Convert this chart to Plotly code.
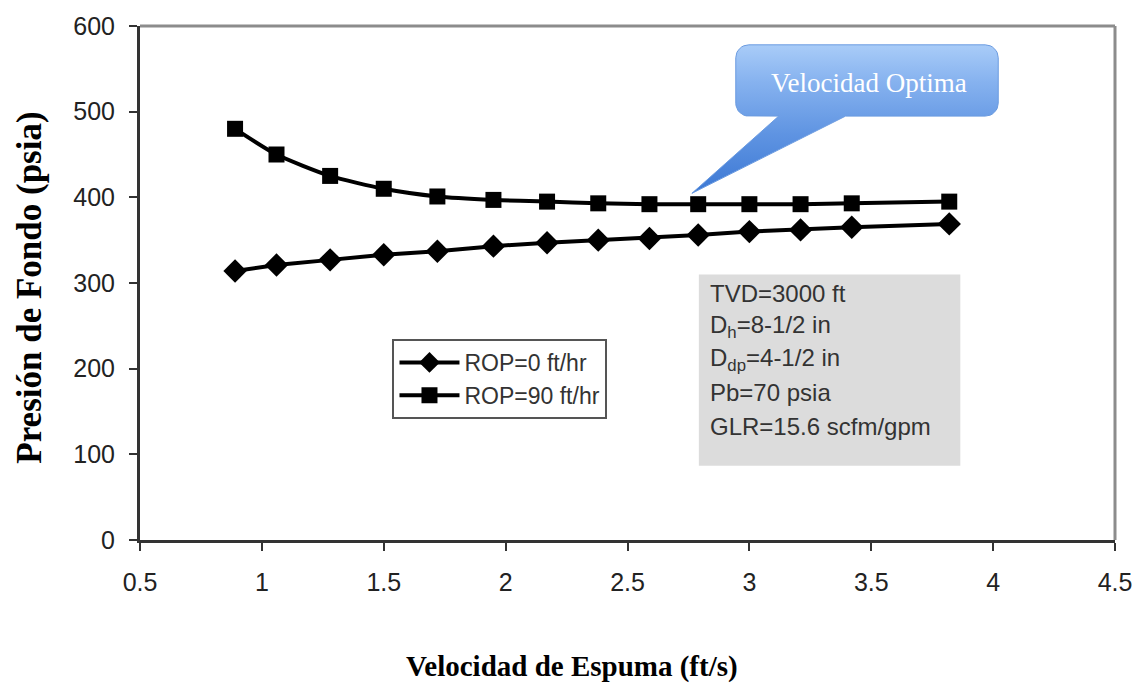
import plotly.graph_objects as go

# Foam velocity (ft/s) and bottom-hole pressure (psia) for two penetration rates
velocidad = [0.89, 1.06, 1.28, 1.50, 1.72, 1.95, 2.17, 2.38, 2.59, 2.79, 3.00, 3.21, 3.42, 3.82]
rop_0 = [314, 321, 327, 333, 337, 343, 347, 350, 352, 356, 360, 362, 365, 369]
rop_90 = [480, 450, 425, 410, 401, 397, 395, 393, 392, 392, 392, 392, 393, 395]

serie_labels = ["ROP=0 ft/hr", "ROP=90 ft/hr"]
x_ticks = [0.5, 1, 1.5, 2, 2.5, 3, 3.5, 4, 4.5]
x_tick_text = ["0.5", "1", "1.5", "2", "2.5", "3", "3.5", "4", "4.5"]
y_ticks = [0, 100, 200, 300, 400, 500, 600]

info_lines = [
    "TVD=3000 ft",
    "D<sub>h</sub>=8-1/2 in",
    "D<sub>dp</sub>=4-1/2 in",
    "Pb=70 psia",
    "GLR=15.6 scfm/gpm",
]
callout_text = "Velocidad Optima"

W, H = 1144, 691
M_L, M_R, M_T, M_B = 140, 27, 21, 151
X_RANGE = [0.5, 4.5]
Y_RANGE = [0, 600]
PW = W - M_L - M_R
PH = H - M_T - M_B

SANS = "Liberation Sans, Arial, sans-serif"
SERIF = "Liberation Serif, Times New Roman, serif"


def px_to_data(px, py):
    x = X_RANGE[0] + (px - M_L) / PW * (X_RANGE[1] - X_RANGE[0])
    y = Y_RANGE[0] + (M_T + PH - py) / PH * (Y_RANGE[1] - Y_RANGE[0])
    return x, y


def px_to_paper(px, py):
    return (px - M_L) / PW, (M_T + PH - py) / PH


# Speech-bubble outline (pixel geometry), converted to axis units
def bubble_outline(left, top, right, bottom, r, base_l, base_r, tip):
    import math
    pts = []

    def arc(cx, cy, a0, a1, n=8):
        for i in range(n + 1):
            a = math.radians(a0 + (a1 - a0) * i / n)
            pts.append((cx + r * math.cos(a), cy + r * math.sin(a)))

    arc(left + r, top + r, 180, 270)
    arc(right - r, top + r, 270, 360)
    arc(right - r, bottom - r, 0, 90)
    pts.append((base_r, bottom))
    pts.append(tip)
    pts.append((base_l, bottom))
    arc(left + r, bottom - r, 90, 180)
    pts.append(pts[0])
    xs, ys = zip(*[px_to_data(a, b) for a, b in pts])
    return list(xs), list(ys)


fig = go.Figure()

bx, by = bubble_outline(737, 40, 1000, 112, 13, 780, 847, (693, 190))
fig.add_trace(go.Scatter(
    x=bx, y=by, mode="lines", fill="toself",
    line=dict(color="#6b9be0", width=1),
    fillgradient=dict(
        type="vertical",
        colorscale=[[0, "#3c78d4"], [0.4, "#5f94e2"], [0.75, "#86b2ef"], [1, "#a9ccf8"]],
    ),
    hoverinfo="skip", showlegend=False,
))

fig.add_trace(go.Scatter(
    x=velocidad, y=rop_0, name=serie_labels[0], legendgroup="a",
    mode="lines+markers",
    line=dict(color="black", width=4),
    marker=dict(symbol="diamond", size=18, color="black"),
))
fig.add_trace(go.Scatter(
    x=velocidad, y=rop_90, name=serie_labels[1], legendgroup="b",
    mode="lines+markers",
    line=dict(color="black", width=4, shape="spline", smoothing=0.6),
    marker=dict(symbol="square", size=16, color="black"),
))

shapes = []
# parameter box
x0, y0 = px_to_paper(700, 272)
x1, y1 = px_to_paper(962, 465)
shapes.append(dict(type="rect", xref="paper", yref="paper", x0=x0, y0=y1, x1=x1, y1=y0,
                   fillcolor="#dcdcdc", line=dict(width=0), layer="below"))
# top and right frame lines
shapes.append(dict(type="line", xref="paper", yref="paper", x0=0, y0=1, x1=1, y1=1,
                   line=dict(color="#8c8c8c", width=3)))
shapes.append(dict(type="line", xref="paper", yref="paper", x0=1, y0=0, x1=1, y1=1,
                   line=dict(color="#8c8c8c", width=3)))

annotations = []
line_y = [291, 324, 358, 391, 425]
for txt, py in zip(info_lines, line_y):
    ax, ay = px_to_paper(709, py)
    annotations.append(dict(text=txt, xref="paper", yref="paper", x=ax, y=ay,
                            xanchor="left", yanchor="middle", showarrow=False,
                            font=dict(family=SANS, size=24, color="#333333")))

cx, cy = px_to_paper(870, 79)
annotations.append(dict(text=callout_text, xref="paper", yref="paper", x=cx, y=cy,
                        xanchor="center", yanchor="middle", showarrow=False,
                        font=dict(family=SERIF, size=27, color="white")))

tx, ty = px_to_paper(573, 668)
annotations.append(dict(text="<b>Velocidad de Espuma (ft/s)</b>", xref="paper", yref="paper",
                        x=tx, y=ty, xanchor="center", yanchor="middle", showarrow=False,
                        font=dict(family=SERIF, size=29, color="black")))
tx, ty = px_to_paper(29, 285)
annotations.append(dict(text="<b>Presión de Fondo (psia)</b>", xref="paper", yref="paper",
                        x=tx, y=ty, xanchor="center", yanchor="middle", showarrow=False,
                        textangle=-90,
                        font=dict(family=SERIF, size=35, color="black")))

lx, ly = px_to_paper(393, 337)
fig.update_layout(
    width=W, height=H,
    margin=dict(l=M_L, r=M_R, t=M_T, b=M_B),
    paper_bgcolor="white", plot_bgcolor="white",
    shapes=shapes, annotations=annotations,
    legend=dict(x=lx, y=ly, xanchor="left", yanchor="top",
                bgcolor="white", bordercolor="#555555", borderwidth=2,
                font=dict(family=SANS, size=23, color="#333333"),
                tracegroupgap=0, traceorder="grouped", itemwidth=60),
    xaxis=dict(range=X_RANGE, tickvals=x_ticks, ticktext=x_tick_text,
               showgrid=False, zeroline=False,
               showline=True, linecolor="#333333", linewidth=3,
               ticks="outside", ticklen=8, tickwidth=2, tickcolor="#333333",
               ticklabelstandoff=10,
               tickfont=dict(family=SANS, size=25, color="#222222")),
    yaxis=dict(range=Y_RANGE, tickvals=y_ticks,
               showgrid=False, zeroline=False,
               showline=True, linecolor="#333333", linewidth=3,
               ticks="outside", ticklen=8, tickwidth=2, tickcolor="#333333",
               ticklabelstandoff=9,
               tickfont=dict(family=SANS, size=25, color="#222222")),
)

fig.write_html("out.html")
